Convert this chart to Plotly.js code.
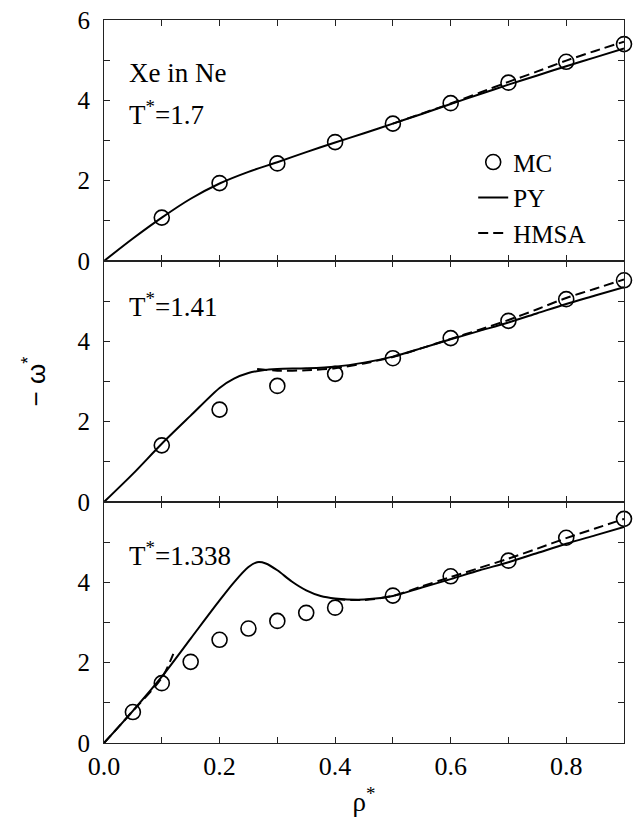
<!DOCTYPE html>
<html>
<head>
<meta charset="utf-8">
<script src="https://cdn.plot.ly/plotly-3.0.1.min.js"></script>
<style>html,body{margin:0;padding:0;background:#fff;}#chart{width:633px;height:817px;}</style>
</head>
<body>
<div id="chart"></div>
<script>
// ---------- data ----------
const xTickVals = [0, 0.2, 0.4, 0.6, 0.8];
const xTickText = ['0.0', '0.2', '0.4', '0.6', '0.8'];
const yTickValsTop = [0, 2, 4, 6];
const yTickTextTop = ['0', '2', '4', '6'];
const yTickValsLow = [0, 2, 4];
const yTickTextLow = ['0', '2', '4'];

// Panel 1: T* = 1.7
const mcRho1 = [0.1, 0.2, 0.3, 0.4, 0.5, 0.6, 0.7, 0.8, 0.9];
const mcVal1 = [1.08, 1.94, 2.43, 2.96, 3.42, 3.93, 4.44, 4.96, 5.40];
const pyRho1 = [0, 0.05, 0.1, 0.15, 0.2, 0.25, 0.3, 0.35, 0.4, 0.45, 0.5, 0.55, 0.6, 0.65, 0.7, 0.75, 0.8, 0.85, 0.9];
const pyVal1 = [0, 0.56, 1.08, 1.55, 1.93, 2.22, 2.46, 2.71, 2.95, 3.18, 3.42, 3.66, 3.91, 4.15, 4.39, 4.62, 4.85, 5.07, 5.29];
const hmsaRho1 = [0.5, 0.55, 0.6, 0.65, 0.7, 0.75, 0.8, 0.85, 0.9];
const hmsaVal1 = [3.42, 3.67, 3.92, 4.19, 4.46, 4.72, 4.99, 5.23, 5.46];

// Panel 2: T* = 1.41
const mcRho2 = [0.1, 0.2, 0.3, 0.4, 0.5, 0.6, 0.7, 0.8, 0.9];
const mcVal2 = [1.41, 2.30, 2.89, 3.19, 3.58, 4.08, 4.51, 5.05, 5.52];
const pyRho2 = [0, 0.05, 0.1, 0.15, 0.2, 0.225, 0.25, 0.275, 0.3, 0.35, 0.4, 0.45, 0.5, 0.55, 0.6, 0.65, 0.7, 0.75, 0.8, 0.85, 0.9];
const pyVal2 = [0, 0.7, 1.45, 2.15, 2.84, 3.07, 3.21, 3.28, 3.31, 3.33, 3.37, 3.47, 3.62, 3.83, 4.05, 4.26, 4.47, 4.7, 4.93, 5.14, 5.35];
const hmsaRho2 = [0.265, 0.3, 0.35, 0.4, 0.45, 0.5, 0.55, 0.6, 0.65, 0.7, 0.75, 0.8, 0.85, 0.9];
const hmsaVal2 = [3.31, 3.27, 3.28, 3.33, 3.45, 3.61, 3.83, 4.06, 4.29, 4.53, 4.80, 5.08, 5.31, 5.54];

// Panel 3: T* = 1.338
const mcRho3 = [0.05, 0.1, 0.15, 0.2, 0.25, 0.3, 0.35, 0.4, 0.5, 0.6, 0.7, 0.8, 0.9];
const mcVal3 = [0.77, 1.49, 2.02, 2.57, 2.85, 3.04, 3.24, 3.37, 3.67, 4.15, 4.54, 5.11, 5.58];
const pyRho3 = [0, 0.05, 0.1, 0.15, 0.2, 0.225, 0.25, 0.265, 0.28, 0.3, 0.325, 0.35, 0.375, 0.4, 0.45, 0.5, 0.55, 0.6, 0.65, 0.7, 0.75, 0.8, 0.85, 0.9];
const pyVal3 = [0, 0.8, 1.65, 2.6, 3.55, 4.0, 4.38, 4.5, 4.47, 4.3, 4.02, 3.8, 3.66, 3.6, 3.57, 3.66, 3.87, 4.08, 4.3, 4.5, 4.73, 4.96, 5.17, 5.38];
const hmsaRho3 = [0, 0.05, 0.1, 0.12, null, 0.4, 0.45, 0.5, 0.55, 0.6, 0.65, 0.7, 0.75, 0.8, 0.85, 0.9];
const hmsaVal3 = [0, 0.8, 1.62, 2.22, null, 3.58, 3.56, 3.66, 3.9, 4.13, 4.36, 4.59, 4.84, 5.1, 5.34, 5.58];

const systemLabel = 'Xe in Ne';
const panelLabels = ['T<sup>*</sup>=1.7', 'T<sup>*</sup>=1.41', 'T<sup>*</sup>=1.338'];

// ---------- traces ----------
const serif = '"Liberation Serif", "Times New Roman", Times, serif';
const mcStyle = {symbol: 'circle-open', size: 15, color: '#000', line: {width: 1.6, color: '#000'}};
const pyLine = {color: '#000', width: 2, shape: 'spline', smoothing: 0.8};
const hmsaLine = {color: '#000', width: 2, dash: '10px,5px', shape: 'spline', smoothing: 0.8};

const panels = [
  {mcR: mcRho1, mcV: mcVal1, pyR: pyRho1, pyV: pyVal1, hR: hmsaRho1, hV: hmsaVal1, xa: 'x', ya: 'y'},
  {mcR: mcRho2, mcV: mcVal2, pyR: pyRho2, pyV: pyVal2, hR: hmsaRho2, hV: hmsaVal2, xa: 'x2', ya: 'y2'},
  {mcR: mcRho3, mcV: mcVal3, pyR: pyRho3, pyV: pyVal3, hR: hmsaRho3, hV: hmsaVal3, xa: 'x3', ya: 'y3'}
];

const traces = [];
panels.forEach((p, i) => {
  traces.push({x: p.mcR, y: p.mcV, xaxis: p.xa, yaxis: p.ya, type: 'scatter', mode: 'markers',
    name: 'MC', legendgroup: 'MC', showlegend: i === 0, marker: mcStyle, cliponaxis: false});
  traces.push({x: p.pyR, y: p.pyV, xaxis: p.xa, yaxis: p.ya, type: 'scatter', mode: 'lines',
    name: 'PY', legendgroup: 'PY', showlegend: i === 0, line: pyLine});
  traces.push({x: p.hR, y: p.hV, xaxis: p.xa, yaxis: p.ya, type: 'scatter', mode: 'lines',
    name: 'HMSA', legendgroup: 'HMSA', showlegend: i === 0, line: hmsaLine, connectgaps: false});
});

// ---------- layout ----------
function xAxis(anchor, showLabels) {
  return {
    anchor: anchor, domain: [0, 1], range: [0, 0.9], tickmode: 'array',
    tickvals: xTickVals, ticktext: xTickText, ticks: 'inside', ticklen: 6, tickwidth: 1,
    tickcolor: '#222', showline: true, linecolor: '#222', linewidth: 1, mirror: 'ticks',
    minor: {dtick: 0.1, tick0: 0, ticks: 'inside', ticklen: 6, tickwidth: 1, tickcolor: '#222', showgrid: false},
    showgrid: false, zeroline: false, showticklabels: showLabels,
    tickfont: {family: serif, size: 26, color: '#000'}
  };
}
function yAxis(anchor, domain, vals, text) {
  return {
    anchor: anchor, domain: domain, range: [0, 6], tickmode: 'array',
    tickvals: vals, ticktext: text, ticks: 'inside', ticklen: 6, tickwidth: 1,
    tickcolor: '#222', showline: true, linecolor: '#222', linewidth: 1, mirror: 'ticks',
    minor: {dtick: 1, tick0: 0, ticks: 'inside', ticklen: 6, tickwidth: 1, tickcolor: '#222', showgrid: false},
    showgrid: false, zeroline: false, ticklabelstandoff: 8,
    tickfont: {family: serif, size: 25, color: '#000'}
  };
}

const xa3 = xAxis('y3', true);
xa3.title = {text: 'ρ<sup>*</sup>', font: {family: serif, size: 27, color: '#000'}, standoff: 18};
const ya2 = yAxis('x2', [1/3, 2/3], yTickValsLow, yTickTextLow);
ya2.title = {text: '− ω<sup>*</sup>', font: {family: '"Liberation Sans", Arial, sans-serif', size: 26, color: '#000'}, standoff: 24};

const annFont = {family: serif, size: 27, color: '#000'};
const layout = {
  width: 633, height: 817,
  margin: {l: 104, r: 9, t: 20, b: 74},
  paper_bgcolor: '#fff', plot_bgcolor: '#fff',
  showlegend: true,
  legend: {x: 0.71, y: 0.835, xanchor: 'left', yanchor: 'top', bgcolor: 'rgba(0,0,0,0)',
    font: {family: serif, size: 25, color: '#000'}, tracegroupgap: 0, itemwidth: 30},
  xaxis: xAxis('y', false),
  xaxis2: xAxis('y2', false),
  xaxis3: xa3,
  yaxis: yAxis('x', [2/3, 1], yTickValsTop, yTickTextTop),
  yaxis2: ya2,
  yaxis3: yAxis('x3', [0, 1/3], yTickValsLow, yTickTextLow),
  annotations: [
    {xref: 'x', yref: 'y', x: 0.04, y: 4.68, text: systemLabel, showarrow: false, xanchor: 'left', yanchor: 'middle', align: 'left', font: annFont},
    {xref: 'x', yref: 'y', x: 0.04, y: 3.68, text: panelLabels[0], showarrow: false, xanchor: 'left', yanchor: 'middle', align: 'left', font: annFont},
    {xref: 'x2', yref: 'y2', x: 0.04, y: 4.9, text: panelLabels[1], showarrow: false, xanchor: 'left', yanchor: 'middle', align: 'left', font: annFont},
    {xref: 'x3', yref: 'y3', x: 0.04, y: 4.7, text: panelLabels[2], showarrow: false, xanchor: 'left', yanchor: 'middle', align: 'left', font: annFont}
  ]
};

Plotly.newPlot('chart', traces, layout, {displayModeBar: false, staticPlot: true});
</script>
</body>
</html>
